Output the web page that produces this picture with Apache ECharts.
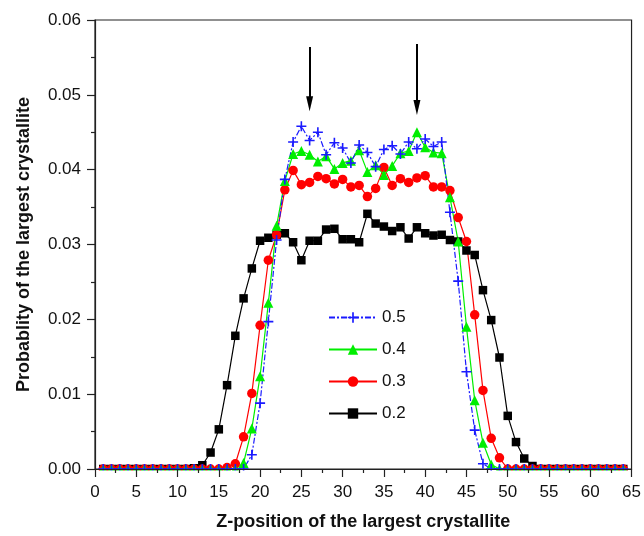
<!doctype html>
<html>
<head>
<meta charset="utf-8">
<title>Largest crystallite position</title>
<script src="https://cdn.jsdelivr.net/npm/echarts@6/dist/echarts.min.js"></script>
<style>
    html, body { margin: 0; padding: 0; background: #fff; }
    #chartBox { width: 644px; height: 536px; }
</style>
</head>
<body>
<div id="chartBox"></div>
<script>
    // z positions 1..64
    var zPos = [];
    for (var i = 1; i <= 64; i++) zPos.push(i);

    var seriesNames = ['0.2', '0.3', '0.4', '0.5'];
    var legendOrder = ['0.5', '0.4', '0.3', '0.2'];

    var prob02 = [0,0,0,0,0,0,0,0,0,0,0,0.0001,0.0005,0.0022,0.0053,0.0112,0.0178,0.0228,0.0268,0.0305,
        0.0309,0.0313,0.0315,0.0303,0.0279,0.0305,0.0305,0.0320,0.0321,0.0307,0.0307,0.0303,0.0341,0.0328,0.0324,0.0318,
        0.0323,0.0308,0.0323,0.0315,0.0312,0.0313,0.0306,0.0304,0.0292,0.0286,0.0239,0.0199,0.0149,0.0071,0.0036,0.0014,
        0.0004,0,0,0,0,0,0,0,0,0,0,0];
    var prob03 = [0,0,0,0,0,0,0,0,0,0,0,0,0,0,0,0.0002,0.0007,0.0043,0.0101,0.0192,
        0.0279,0.0313,0.0373,0.0399,0.0380,0.0383,0.0391,0.0388,0.0381,0.0387,0.0377,0.0379,0.0364,0.0375,0.0403,0.0379,
        0.0388,0.0383,0.0389,0.0392,0.0377,0.0377,0.0372,0.0336,0.0304,0.0206,0.0105,0.0041,0.0015,0,0,0,
        0,0,0,0,0,0,0,0,0,0,0,0];
    var prob04 = [0,0,0,0,0,0,0,0,0,0,0,0,0,0,0,0,0,0.0008,0.0054,0.0124,
        0.0222,0.0325,0.0385,0.0421,0.0425,0.0420,0.0411,0.0418,0.0401,0.0409,0.0412,0.0426,0.0397,0.0406,0.0393,0.0405,
        0.0422,0.0425,0.0450,0.0430,0.0423,0.0422,0.0363,0.0304,0.0190,0.0092,0.0035,0.0006,0,0,0,0,
        0,0,0,0,0,0,0,0,0,0,0,0];
    var prob05 = [0,0,0,0,0,0,0,0,0,0,0,0,0,0,0,0,0,0,0.0019,0.0088,
        0.0197,0.0306,0.0387,0.0437,0.0458,0.0439,0.0450,0.0420,0.0436,0.0429,0.0409,0.0433,0.0423,0.0404,0.0427,0.0432,
        0.0421,0.0437,0.0428,0.0441,0.0431,0.0437,0.0343,0.0251,0.0130,0.0052,0.0007,0,0,0,0,0,
        0,0,0,0,0,0,0,0,0,0,0,0];

    // arrows pointing at the two peaks
    var arrowX = [26, 39];
    var arrowTop = [0.0564, 0.0568];
    var arrowTip = [0.0488, 0.0483];

    var xTicks = { min: 0, max: 65, step: 5 };
    var yTicks = { min: 0, max: 0.06, step: 0.01 };

    var font = 'Liberation Sans, Arial, sans-serif';
    var plusPath = 'path://M4.2,0L5.8,0L5.8,4.2L10,4.2L10,5.8L5.8,5.8L5.8,10L4.2,10L4.2,5.8L0,5.8L0,4.2L4.2,4.2Z';

    function pairs(vals){
        return zPos.map(function(x, k){ return [x, vals[k]]; });
    }

    var styles = {
        '0.2': { color: '#000000', symbol: 'rect', size: 8.5, dash: 'solid' },
        '0.3': { color: '#ff0000', symbol: 'circle', size: 9.5, dash: 'solid' },
        '0.4': { color: '#00ee00', symbol: 'triangle', size: 10, dash: 'solid' },
        '0.5': { color: '#1a1aff', symbol: plusPath, size: 10, dash: [6, 2, 2, 2] }
    };
    var values = { '0.2': prob02, '0.3': prob03, '0.4': prob04, '0.5': prob05 };

    var arrowData = arrowX.map(function(x, k){
        return [
            { coord: [x, arrowTop[k]], symbol: 'none' },
            { coord: [x, arrowTip[k]], symbol: 'triangle', symbolSize: [7, 15], symbolRotate: 180 }
        ];
    });

    var series = seriesNames.map(function(name){
        var st = styles[name];
        var s = {
            name: name,
            type: 'line',
            data: pairs(values[name]),
            symbol: st.symbol,
            symbolSize: st.size,
            showSymbol: true,
            lineStyle: { color: st.color, width: 1.2, type: st.dash },
            itemStyle: { color: st.color, borderWidth: 0 },
            emphasis: { disabled: true }
        };
        if (name === '0.2') {
            s.markLine = {
                silent: true,
                animation: false,
                label: { show: false },
                lineStyle: { color: '#000', width: 2, type: 'solid' },
                data: arrowData
            };
        }
        return s;
    });

    var chart = echarts.init(document.getElementById('chartBox'));
    chart.setOption({
        animation: false,
        backgroundColor: '#fff',
        textStyle: { fontFamily: font },
        grid: { left: 95, right: 11, top: 20, bottom: 66, show: true, borderColor: '#222', borderWidth: 1.2 },
        legend: {
            data: legendOrder,
            orient: 'vertical',
            left: 323,
            top: 304,
            itemWidth: 48,
            itemHeight: 13,
            itemGap: 15,
            textStyle: { fontSize: 17, color: '#111', fontFamily: font }
        },
        xAxis: {
            type: 'value',
            zlevel: 1,
            z: 10,
            min: xTicks.min, max: xTicks.max, interval: xTicks.step,
            name: 'Z-position of the largest crystallite',
            nameLocation: 'middle',
            nameGap: 44,
            nameTextStyle: { fontSize: 18, fontWeight: 'bold', color: '#111', fontFamily: font },
            axisLine: { lineStyle: { color: '#222', width: 1.2 } },
            axisTick: { length: 8, lineStyle: { color: '#222', width: 1.2 } },
            minorTick: { show: true, splitNumber: 2, length: 4, lineStyle: { color: '#222', width: 1.2 } },
            axisLabel: { fontSize: 17, color: '#111', margin: 15 },
            splitLine: { show: false }
        },
        yAxis: {
            type: 'value',
            zlevel: 1,
            z: 10,
            min: yTicks.min, max: yTicks.max, interval: yTicks.step,
            name: 'Probablity of the largest crystallite',
            nameLocation: 'middle',
            nameGap: 62,
            nameTextStyle: { fontSize: 18, fontWeight: 'bold', color: '#111', fontFamily: font },
            axisLine: { lineStyle: { color: '#222', width: 1.2 } },
            axisTick: { length: 8, lineStyle: { color: '#222', width: 1.2 } },
            minorTick: { show: true, splitNumber: 2, length: 4, lineStyle: { color: '#222', width: 1.2 } },
            axisLabel: { fontSize: 17, color: '#111', margin: 14, formatter: function(v){ return v.toFixed(2); } },
            splitLine: { show: false }
        },
        // white band under the x axis so markers sitting on zero look cut off, as in the original
        graphic: [{
            type: 'rect',
            zlevel: 1,
            z: 5,
            silent: true,
            shape: { x: 0, y: 470.6, width: 644, height: 66 },
            style: { fill: '#fff' }
        }],
        series: series
    });
</script>
</body>
</html>
